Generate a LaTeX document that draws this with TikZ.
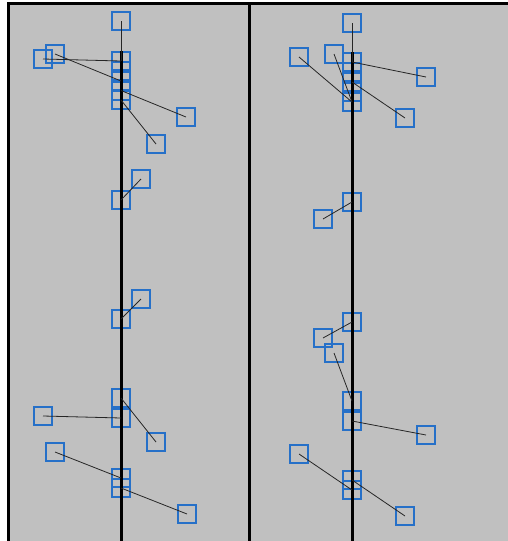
\documentclass[tikz,border=0pt]{standalone}
\usetikzlibrary{positioning}

\definecolor{panelgray}{RGB}{192,192,192}
\definecolor{boxblue}{RGB}{38,112,200}

\begin{document}
\begin{tikzpicture}[
    x=1pt, y=-1pt,
    stackbox/.style={
        rectangle, draw=boxblue, line width=2pt,
        minimum size=18pt, inner sep=0pt
    },
    labelbox/.style={stackbox},
    link/.style={draw=black!85, line width=0.8pt},
    axisline/.style={draw=black, line width=3pt},
    frameline/.style={draw=black, line width=2.6pt}
]
\useasboundingbox (0,0) rectangle (508,541);

% Background and frame
\fill[panelgray] (8,4) rectangle (508,541);
\draw[frameline] (8.5,541) -- (8.5,3.7) -- (508,3.7);
\draw[frameline] (249.5,4) -- (249.5,541);

\coordinate (lend) at (121,541);
\coordinate (rend) at (352,541);

% Left panel: top group
\node[labelbox] (ltop) at (121,21)  {};
\node[stackbox] (ls1)  at (121,61)  {};
\node[stackbox] (ls2)  at (121,71)  {};
\node[stackbox] (ls3)  at (121,81)  {};
\node[stackbox] (ls4)  at (121,90.5){};
\node[stackbox] (ls5)  at (121,100) {};
\node[labelbox] (la)   at (43,59)   {};
\node[labelbox] (lb)   at (55,54)   {};
\node[labelbox] (lc)   at (186,117) {};
\node[labelbox] (ld)   at (156,144) {};

% Left panel: middle pairs
\node[stackbox] (lm1)  at (121,200) {};
\node[labelbox] (lm1o) at (141,179) {};
\node[stackbox] (lm2)  at (121,319) {};
\node[labelbox] (lm2o) at (141,299) {};

% Left panel: bottom groups
\node[stackbox] (lb1)  at (121,398) {};
\node[stackbox] (lb2)  at (121,418) {};
\node[labelbox] (le)   at (43,416)  {};
\node[labelbox] (lf)   at (156,442) {};
\node[stackbox] (lc1)  at (121,478) {};
\node[stackbox] (lc2)  at (121,488) {};
\node[labelbox] (lg)   at (55,452)  {};
\node[labelbox] (lh)   at (187,514) {};

% Right panel: top group
\node[labelbox] (rtop) at (352,23)  {};
\node[stackbox] (rs1)  at (352,62)  {};
\node[stackbox] (rs2)  at (352,72)  {};
\node[stackbox] (rs3)  at (352,82)  {};
\node[stackbox] (rs4)  at (352,92)  {};
\node[stackbox] (rs5)  at (352,102) {};
\node[labelbox] (ri)   at (299,57)  {};
\node[labelbox] (rj)   at (334,54)  {};
\node[labelbox] (rk)   at (426,77)  {};
\node[labelbox] (rl)   at (405,118) {};

% Right panel: middle pairs
\node[stackbox] (rm1)  at (352,202) {};
\node[labelbox] (rm1o) at (323,219) {};
\node[stackbox] (rm2)  at (352,322) {};
\node[labelbox] (rm2o) at (323,338) {};
\node[labelbox] (rmm)  at (334,353) {};

% Right panel: bottom groups
\node[stackbox] (rb1)  at (352,401) {};
\node[stackbox] (rb2)  at (352,421) {};
\node[labelbox] (rn)   at (426,435) {};
\node[stackbox] (rc1)  at (352,480) {};
\node[stackbox] (rc2)  at (352,490) {};
\node[labelbox] (ro)   at (299,454) {};
\node[labelbox] (rp)   at (405,516) {};

% Time axes
\draw[axisline] (ls1.north) -- (lend);
\draw[axisline] (rs1.north) -- (rend);

% Leader lines, left
\draw[link] (ltop.center) -- (ls1.center);
\draw[link] (la.center)   -- (ls1.center);
\draw[link] (lb.center)   -- (ls3.center);
\draw[link] (lc.center)   -- (ls4.center);
\draw[link] (ld.center)   -- (ls5.center);
\draw[link] (lm1o.center) -- (lm1.center);
\draw[link] (lm2o.center) -- (lm2.center);
\draw[link] (le.center)   -- (lb2.center);
\draw[link] (lf.center)   -- (lb1.center);
\draw[link] (lg.center)   -- (lc1.center);
\draw[link] (lh.center)   -- (lc2.center);

% Leader lines, right
\draw[link] (rtop.center) -- (rs1.center);
\draw[link] (rk.center)   -- (rs1.center);
\draw[link] (rl.center)   -- (rs3.center);
\draw[link] (ri.center)   -- (rs5.center);
\draw[link] (rj.center)   -- (rs5.center);
\draw[link] (rm1o.center) -- (rm1.center);
\draw[link] (rm2o.center) -- (rm2.center);
\draw[link] (rmm.center)  -- (rb1.center);
\draw[link] (rn.center)   -- (rb2.center);
\draw[link] (ro.center)   -- (rc2.center);
\draw[link] (rp.center)   -- (rc1.center);

\end{tikzpicture}
\end{document}
